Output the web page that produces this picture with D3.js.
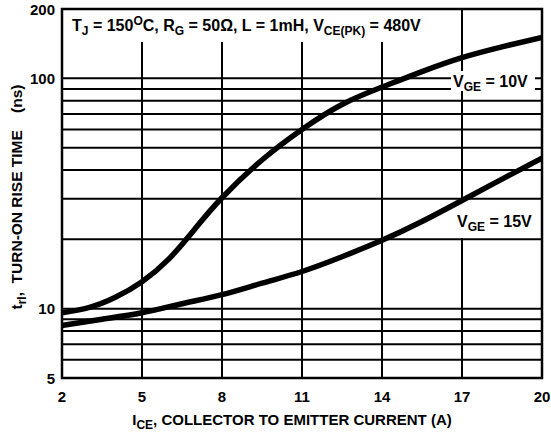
<!DOCTYPE html>
<html><head><meta charset="utf-8">
<script src="https://cdn.jsdelivr.net/npm/d3@7"></script>
<style>
html,body{margin:0;padding:0;background:#fff;}
svg{display:block;font-family:"Liberation Sans",Arial,sans-serif;font-weight:bold;}
text{white-space:pre;}
</style></head>
<body><svg id="c" width="551" height="435"></svg>
<script>
// ---- data ----
const xTicks = [2, 5, 8, 11, 14, 17, 20];
const yTickLabels = [5, 10, 100, 200];
const yGrid = [6, 7, 8, 9, 10, 20, 30, 40, 50, 60, 70, 80, 90, 100];
const current = [2, 3, 4, 5, 6, 7, 8, 9.5, 11, 12.5, 14, 15.5, 17, 18.5, 20];
const vge10 = [9.6, 10.1, 11.2, 13.1, 16.4, 22.3, 30.3, 44.2, 60, 77, 91.6, 107, 123, 137, 150.7];
const current15 = [2, 3.5, 5, 6.5, 8, 9.5, 11, 12.5, 14, 15.4, 17, 18.5, 20];
const vge15 = [8.45, 9.0, 9.6, 10.5, 11.5, 12.9, 14.5, 16.8, 19.8, 23.6, 29.5, 36.5, 45];

const svg = d3.select("#c");
const L = 62, R = 542, T = 9, B = 378;
const x = d3.scaleLinear().domain([2, 20]).range([L, R]);
const y = d3.scaleLog().domain([5, 200]).range([B, T]);

// grid
const g = svg.append("g");
g.selectAll(".hg").data(yGrid).enter().append("line")
  .attr("x1", L).attr("x2", R).attr("y1", d => y(d)).attr("y2", d => y(d))
  .attr("stroke", "#000").attr("stroke-width", 2);
g.selectAll(".vg").data(xTicks).enter().append("line")
  .attr("x1", d => x(d)).attr("x2", d => x(d)).attr("y1", T).attr("y2", B)
  .attr("stroke", "#000").attr("stroke-width", 2);

// white boxes behind labels
svg.append("rect").attr("x", L + 1).attr("y", T + 1).attr("width", 370).attr("height", 32).attr("fill", "#fff");
svg.append("rect").attr("x", 451).attr("y", 71).attr("width", 84).attr("height", 20).attr("fill", "#fff");
svg.append("rect").attr("x", 452).attr("y", 202).attr("width", 85).attr("height", 36).attr("fill", "#fff");

// frame
svg.append("rect").attr("x", L).attr("y", T).attr("width", R - L).attr("height", B - T)
  .attr("fill", "none").attr("stroke", "#000").attr("stroke-width", 2.5);

// curves
svg.append("clipPath").attr("id", "clip").append("rect")
  .attr("x", L).attr("y", T).attr("width", R - L).attr("height", B - T);
const line = d3.line().x(d => x(d[0])).y(d => y(d[1])).curve(d3.curveNatural);
const cg = svg.append("g").attr("clip-path", "url(#clip)");
cg.append("path").datum(current.map((c, i) => [c, vge10[i]])).attr("d", line)
  .attr("fill", "none").attr("stroke", "#000").attr("stroke-width", 5.5);
cg.append("path").datum(current15.map((c, i) => [c, vge15[i]])).attr("d", line)
  .attr("fill", "none").attr("stroke", "#000").attr("stroke-width", 5.5);

// tick labels
svg.selectAll(".yt").data(yTickLabels).enter().append("text")
  .attr("x", 55).attr("y", d => y(d) + 5.5).attr("text-anchor", "end")
  .attr("font-size", 15).text(d => d);
svg.selectAll(".xt").data(xTicks).enter().append("text")
  .attr("x", d => x(d)).attr("y", 402).attr("text-anchor", "middle")
  .attr("font-size", 15).text(d => d);

// title inside plot
const SUB = 12;
const t = svg.append("text").attr("x", 72).attr("y", 31).attr("font-size", 16);
t.append("tspan").text("T");
t.append("tspan").attr("font-size", SUB).attr("dy", 4).text("J");
t.append("tspan").attr("dy", -4).text(" = 150");
t.append("tspan").attr("font-size", SUB).attr("dy", -6).text("O");
t.append("tspan").attr("dy", 6).text("C, R");
t.append("tspan").attr("font-size", SUB).attr("dy", 4).text("G");
t.append("tspan").attr("dy", -4).text(" = 50Ω, L = 1mH, V");
t.append("tspan").attr("font-size", SUB).attr("dy", 4).text("CE(PK)");
t.append("tspan").attr("dy", -4).text(" = 480V");

function vlabel(xp, yp, val) {
  const s = svg.append("text").attr("x", xp).attr("y", yp).attr("font-size", 16);
  s.append("tspan").text("V");
  s.append("tspan").attr("font-size", SUB).attr("dy", 4).text("GE");
  s.append("tspan").attr("dy", -4).text(" = " + val);
}
vlabel(453, 87, "10V");
vlabel(457, 227, "15V");

// x axis title
const xt = svg.append("text").attr("x", 292).attr("y", 425).attr("text-anchor", "middle").attr("font-size", 15);
xt.append("tspan").text("I");
xt.append("tspan").attr("font-size", SUB).attr("dy", 4).text("CE");
xt.append("tspan").attr("dy", -4).text(", COLLECTOR TO EMITTER CURRENT (A)");

// y axis title
const yt = svg.append("text").attr("transform", "translate(22,197) rotate(-90)")
  .attr("text-anchor", "middle").attr("font-size", 15.5);
yt.append("tspan").text("t");
yt.append("tspan").attr("font-size", SUB).attr("dy", 4).text("rI");
yt.append("tspan").attr("dy", -4).text(",  TURN-ON RISE TIME    (ns)");
</script></body></html>
